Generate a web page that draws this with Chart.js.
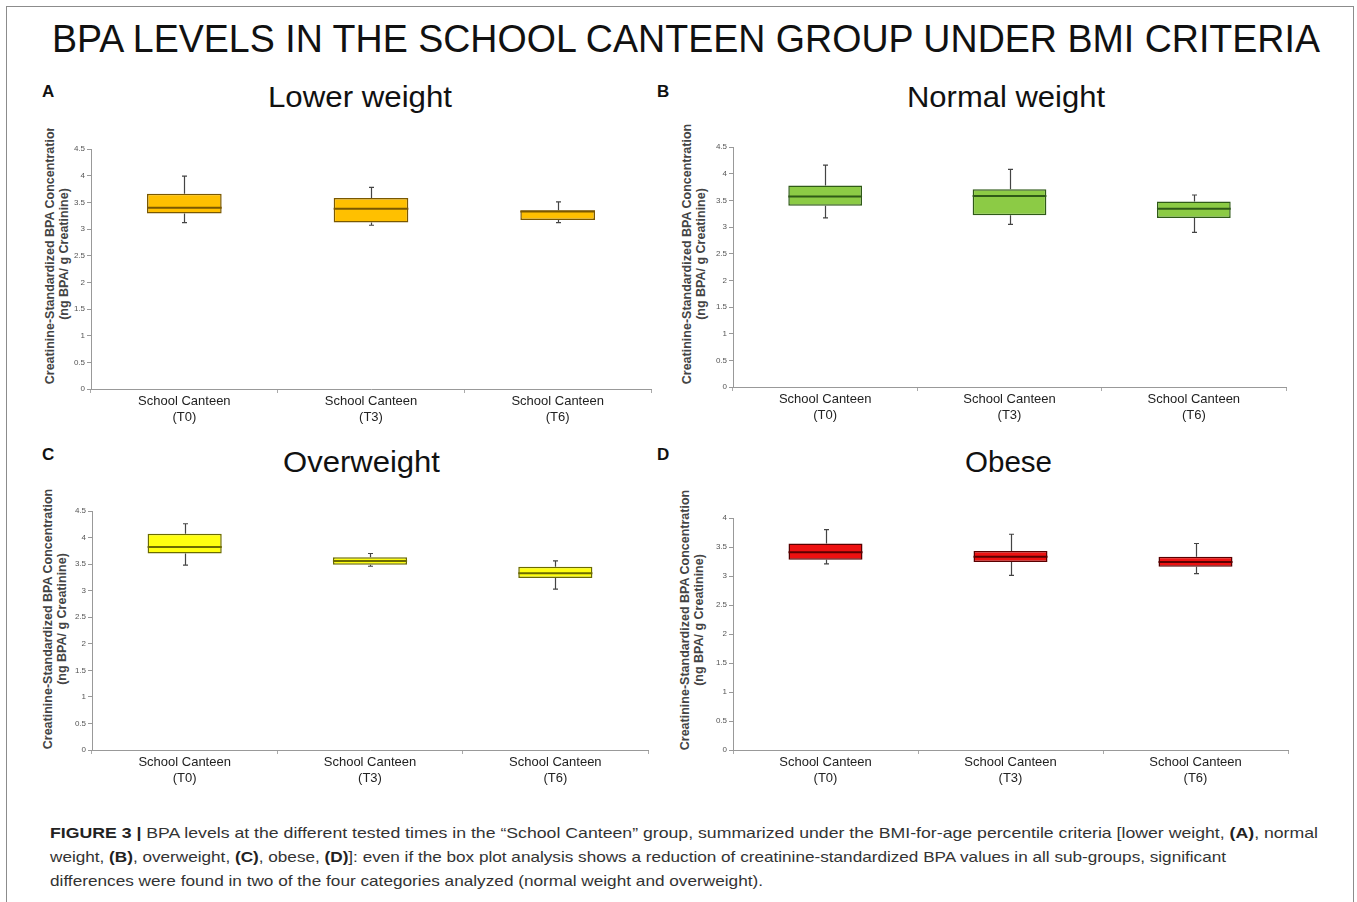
<!DOCTYPE html>
<html>
<head>
<meta charset="utf-8">
<script src="https://cdn.jsdelivr.net/npm/chart.js@4/dist/chart.umd.min.js"></script>
<style>
  body { margin: 0; background: #fff; font-family: "Liberation Sans", Arial, sans-serif; }
  #page { position: relative; width: 1357px; height: 902px; overflow: hidden; background: #fff; }
  #frame { position: absolute; left: 6px; top: 6px; width: 1346px; height: 910px; border: 1px solid #8c8c8c; }
  .txt { position: absolute; white-space: nowrap; transform-origin: left top; }
  canvas { position: absolute; }
  .ytitle { position: absolute; width: 300px; height: 28px; line-height: 14px; font-size: 12.5px; font-weight: bold;
            color: #444; text-align: center; transform: rotate(-90deg); white-space: nowrap; }
  .letter { font-size: 17px; font-weight: bold; color: #111; line-height: 17px; }
  .ptitle { font-size: 29px; color: #111; line-height: 29px; }
  .cap { font-size: 15px; color: #333; line-height: 24px; }
</style>
</head>
<body>
<div id="page">
  <div id="frame"></div>
  <div class="txt" id="mainTitle" style="left:52px;top:20px;font-size:38px;line-height:38px;color:#111;">BPA LEVELS IN THE SCHOOL CANTEEN GROUP UNDER BMI CRITERIA</div>

  <div class="txt letter" style="left:42px;top:83px;">A</div>
  <div class="txt letter" style="left:657px;top:83px;">B</div>
  <div class="txt letter" style="left:42px;top:446px;">C</div>
  <div class="txt letter" style="left:657px;top:446px;">D</div>

  <div class="txt ptitle" id="tA" style="left:268px;top:83px;">Lower weight</div>
  <div class="txt ptitle" id="tB" style="left:907px;top:83px;">Normal weight</div>
  <div class="txt ptitle" id="tC" style="left:283px;top:448px;">Overweight</div>
  <div class="txt ptitle" id="tD" style="left:965px;top:448px;">Obese</div>

  <div style="position:absolute;left:20px;top:128px;width:60px;height:280px;overflow:hidden;">
    <div class="ytitle" style="left:-113.5px;top:112px;">Creatinine-Standardized BPA Concentration<br>(ng BPA/ g Creatinine)</div>
  </div>
  <div class="ytitle" style="left:543.5px;top:240px;">Creatinine-Standardized BPA Concentration<br>(ng BPA/ g Creatinine)</div>
  <div class="ytitle" style="left:-95px;top:605px;">Creatinine-Standardized BPA Concentration<br>(ng BPA/ g Creatinine)</div>
  <div class="ytitle" style="left:541.5px;top:606px;">Creatinine-Standardized BPA Concentration<br>(ng BPA/ g Creatinine)</div>

  <canvas id="chartA" width="620" height="310" style="left:40px;top:122px;"></canvas>
  <canvas id="chartB" width="620" height="310" style="left:680px;top:120px;"></canvas>
  <canvas id="chartC" width="620" height="310" style="left:40px;top:484px;"></canvas>
  <canvas id="chartD" width="620" height="310" style="left:680px;top:484px;"></canvas>

  <div class="txt cap" id="cap1" style="left:50px;top:821px;"><b style="color:#222">FIGURE 3 |</b> BPA levels at the different tested times in the “School Canteen” group, summarized under the BMI-for-age percentile criteria [lower weight, <b style="color:#222">(A)</b>, normal</div>
  <div class="txt cap" id="cap2" style="left:50px;top:845px;">weight, <b style="color:#222">(B)</b>, overweight, <b style="color:#222">(C)</b>, obese, <b style="color:#222">(D)</b>]: even if the box plot analysis shows a reduction of creatinine-standardized BPA values in all sub-groups, significant</div>
  <div class="txt cap" id="cap3" style="left:50px;top:869px;">differences were found in two of the four categories analyzed (normal weight and overweight).</div>
</div>

<script>
// categorie e valori
const categories = [["School Canteen", "(T0)"], ["School Canteen", "(T3)"], ["School Canteen", "(T6)"]];

// A - Lower weight
const lowerMin = [3.12, 3.07, 3.12];
const lowerQ1 = [3.29, 3.12, 3.17];
const lowerMedian = [3.40, 3.38, 3.33];
const lowerQ3 = [3.66, 3.58, 3.35];
const lowerMax = [3.99, 3.78, 3.51];

// B - Normal weight
const normalMin = [3.17, 3.05, 2.90];
const normalQ1 = [3.40, 3.22, 3.17];
const normalMedian = [3.57, 3.58, 3.34];
const normalQ3 = [3.78, 3.71, 3.48];
const normalMax = [4.16, 4.08, 3.60];

// C - Overweight
const overMin = [3.48, 3.46, 3.03];
const overQ1 = [3.70, 3.49, 3.24];
const overMedian = [3.82, 3.56, 3.33];
const overQ3 = [4.07, 3.63, 3.45];
const overMax = [4.26, 3.70, 3.56];

// D - Obese
const obeseMin = [3.21, 3.01, 3.04];
const obeseQ1 = [3.28, 3.24, 3.16];
const obeseMedian = [3.41, 3.33, 3.24];
const obeseQ3 = [3.56, 3.43, 3.33];
const obeseMax = [3.80, 3.72, 3.56];

// tick dell'asse y
const yTicks45 = ["0", "0.5", "1", "1.5", "2", "2.5", "3", "3.5", "4", "4.5"];
const yTicks4 = ["0", "0.5", "1", "1.5", "2", "2.5", "3", "3.5", "4"];

// baffi e mediana disegnati con le scale di Chart.js
const boxPlugin = {
  id: "box",
  beforeDatasetsDraw(chart, args, opts) {
    const c = chart.ctx, y = chart.scales.y, meta = chart.getDatasetMeta(0);
    c.save();
    c.strokeStyle = opts.whisker;
    c.lineWidth = 1.2;
    meta.data.forEach(function (bar, i) {
      const x = Math.round(bar.x) + 0.5;
      const yMin = y.getPixelForValue(opts.min[i]);
      const yMax = y.getPixelForValue(opts.max[i]);
      const yQ1 = y.getPixelForValue(opts.q1[i]);
      const yQ3 = y.getPixelForValue(opts.q3[i]);
      c.beginPath();
      c.moveTo(x, yQ3); c.lineTo(x, yMax);
      c.moveTo(x, yQ1); c.lineTo(x, yMin);
      c.moveTo(x - 2.5, yMax); c.lineTo(x + 2.5, yMax);
      c.moveTo(x - 2.5, yMin); c.lineTo(x + 2.5, yMin);
      c.stroke();
    });
    c.restore();
  },
  afterDatasetsDraw(chart, args, opts) {
    const c = chart.ctx, y = chart.scales.y, meta = chart.getDatasetMeta(0);
    c.save();
    c.strokeStyle = opts.medianColor;
    c.lineWidth = 2;
    meta.data.forEach(function (bar, i) {
      const ym = y.getPixelForValue(opts.median[i]);
      c.beginPath();
      c.moveTo(bar.x - bar.width / 2, ym);
      c.lineTo(bar.x + bar.width / 2, ym);
      c.stroke();
    });
    c.restore();
  }
};

function makeChart(id, q1, q3, min, max, median, ticks, fill, edge, yWidth, xHeight, pad) {
  new Chart(document.getElementById(id), {
    type: "bar",
    data: {
      labels: categories,
      datasets: [{
        data: q1.map(function (v, i) { return [v, q3[i]]; }),
        backgroundColor: fill,
        borderColor: edge,
        borderWidth: 1.5,
        borderSkipped: false,
        barPercentage: 0.4,
        categoryPercentage: 1
      }]
    },
    options: {
      responsive: false,
      animation: false,
      layout: { padding: pad },
      plugins: {
        legend: { display: false },
        tooltip: { enabled: false },
        box: { min: min, max: max, q1: q1, q3: q3, median: median, whisker: "#444", medianColor: edge }
      },
      scales: {
        x: {
          grid: { drawOnChartArea: false, offset: true, tickLength: 4, tickColor: "#aaa" },
          border: { color: "#999" },
          ticks: { color: "#222", padding: 1, maxRotation: 0, font: { family: "Liberation Sans", size: 13 } },
          afterFit: function (s) { s.height = xHeight; }
        },
        y: {
          min: 0,
          max: Number(ticks[ticks.length - 1]),
          afterBuildTicks: function (s) { s.ticks = ticks.map(function (v) { return { value: Number(v) }; }); },
          grid: { drawOnChartArea: false, tickLength: 4, tickColor: "#999" },
          border: { color: "#999" },
          ticks: {
            color: "#555", padding: 2, font: { family: "Liberation Sans", size: 8 },
            callback: function (v, i) { return ticks[i]; }
          },
          afterFit: function (s) { s.width = yWidth; }
        }
      }
    },
    plugins: [boxPlugin]
  });
}

makeChart("chartA", lowerQ1, lowerQ3, lowerMin, lowerMax, lowerMedian, yTicks45,
  "#FFC000", "#7a5800", 51, 43, { top: 27, right: 9, left: 0, bottom: 0 });
makeChart("chartB", normalQ1, normalQ3, normalMin, normalMax, normalMedian, yTicks45,
  "#8CCB45", "#2f5a17", 53, 43, { top: 27, right: 14, left: 0, bottom: 0 });
makeChart("chartC", overQ1, overQ3, overMin, overMax, overMedian, yTicks45,
  "#FFFF10", "#6b6b00", 52, 44, { top: 27, right: 12, left: 0, bottom: 0 });
makeChart("chartD", obeseQ1, obeseQ3, obeseMin, obeseMax, obeseMedian, yTicks4,
  "#EE1111", "#5a0000", 53, 44, { top: 34, right: 12, left: 0, bottom: 0 });

// larghezza dei testi come nell'originale
function fit(id, w) {
  const el = document.getElementById(id);
  const r = el.getBoundingClientRect().width;
  el.style.transform = "scaleX(" + (w / r) + ")";
}
fit("mainTitle", 1268);
fit("tA", 184);
fit("tB", 198);
fit("tC", 157);
fit("tD", 87);
fit("cap1", 1268);
fit("cap2", 1176);
fit("cap3", 713);
</script>
</body>
</html>
